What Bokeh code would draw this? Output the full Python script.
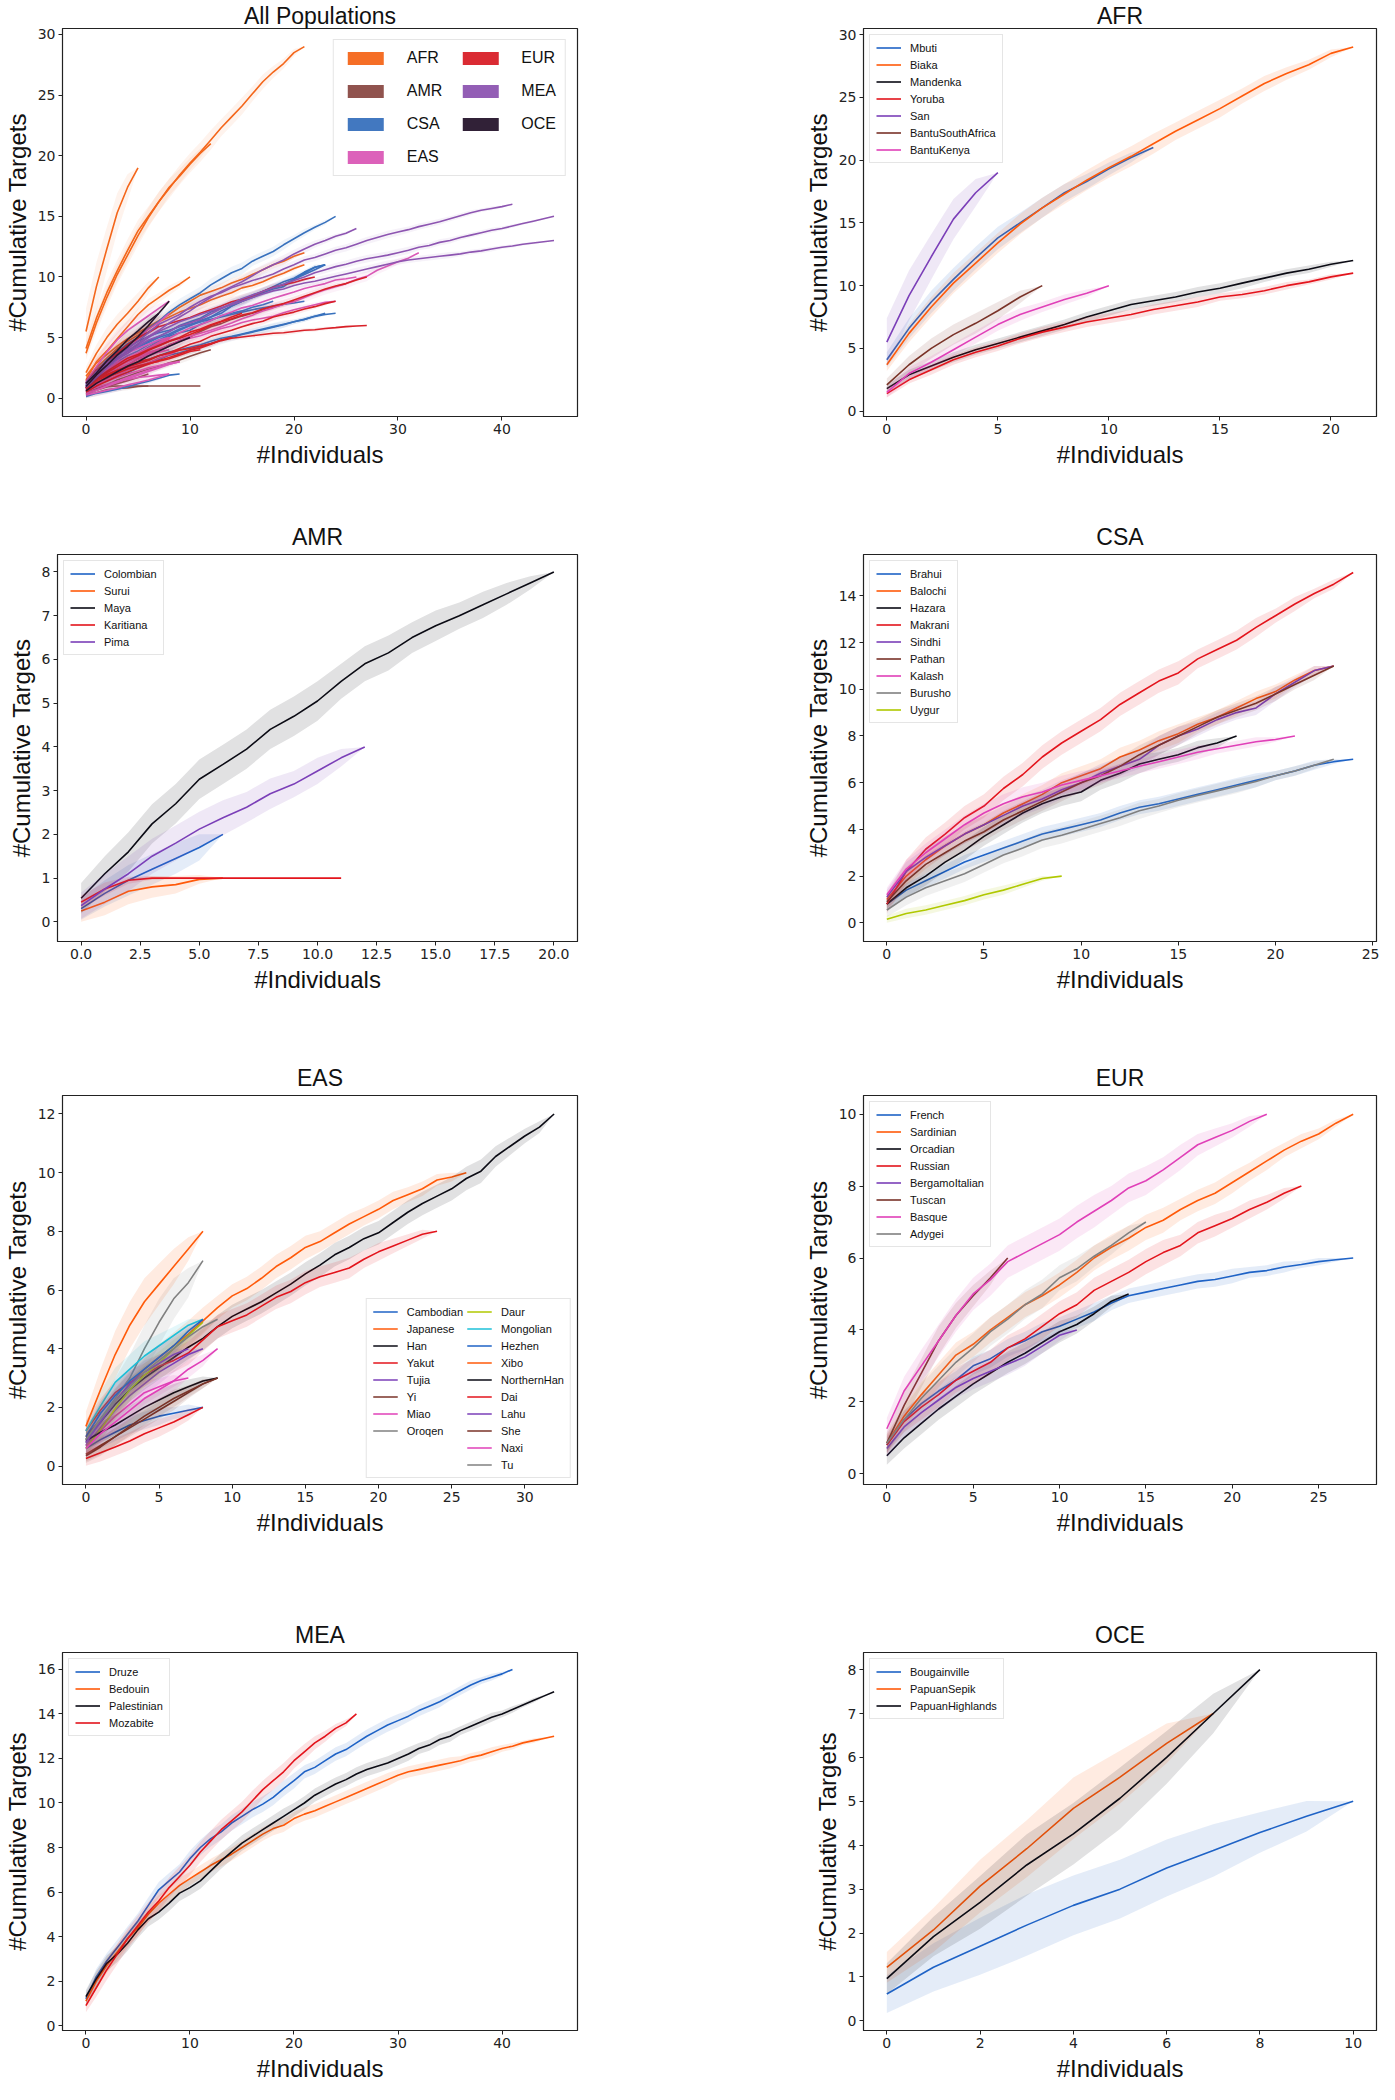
import numpy as np
from bokeh.plotting import figure
from bokeh.layouts import column, row
from bokeh.models import FixedTicker, Legend, LegendItem, NumeralTickFormatter, Range1d
from bokeh.embed import file_html
from bokeh.resources import INLINE

# ------------------------------------------------------------------ data
# mean cumulative targets at #individuals = 0, 1, 2, ...   and band half-width (sd)
# AFR
afr_mbuti = [4.1, 6.6, 8.7, 10.5, 12.2, 13.8, 15.0, 16.2, 17.4, 18.3, 19.3, 20.2, 21.0]
afr_mbuti_sd = [0.6, 0.8, 0.9, 0.9, 0.9, 0.9, 0.8, 0.8, 0.7, 0.6, 0.5, 0.4, 0.0]
afr_biaka = [3.7, 6.2, 8.3, 10.2, 11.8, 13.4, 14.9, 16.2, 17.3, 18.4, 19.4, 20.3, 21.3, 22.3, 23.2, 24.1, 25.1, 26.1, 26.9, 27.6, 28.5, 29.0]
afr_biaka_sd = [0.5, 0.7, 0.8, 0.8, 0.8, 0.8, 0.8, 0.8, 0.8, 0.8, 0.8, 0.8, 0.8, 0.7, 0.7, 0.7, 0.6, 0.6, 0.5, 0.4, 0.3, 0.0]
afr_mandenka = [1.8, 2.9, 3.6, 4.3, 4.9, 5.4, 5.9, 6.4, 6.9, 7.5, 8.0, 8.5, 8.8, 9.1, 9.5, 9.8, 10.2, 10.6, 11.0, 11.3, 11.7, 12.0]
afr_mandenka_sd = [0.3, 0.4, 0.4, 0.4, 0.4, 0.4, 0.4, 0.4, 0.4, 0.4, 0.4, 0.4, 0.4, 0.4, 0.4, 0.4, 0.4, 0.3, 0.3, 0.3, 0.2, 0.0]
afr_yoruba = [1.4, 2.5, 3.3, 4.1, 4.7, 5.2, 5.8, 6.3, 6.7, 7.1, 7.4, 7.7, 8.1, 8.4, 8.7, 9.1, 9.3, 9.6, 10.0, 10.3, 10.7, 11.0]
afr_yoruba_sd = [0.3, 0.3, 0.4, 0.4, 0.4, 0.4, 0.4, 0.4, 0.4, 0.4, 0.4, 0.4, 0.4, 0.4, 0.4, 0.3, 0.3, 0.3, 0.3, 0.2, 0.2, 0.0]
afr_san = [5.5, 9.2, 12.3, 15.3, 17.4, 19.0]
afr_san_sd = [1.9, 2.0, 1.8, 1.6, 1.1, 0.0]
afr_bantusa = [2.1, 3.7, 5.0, 6.1, 7.0, 8.0, 9.1, 10.0]
afr_bantusa_sd = [0.5, 0.7, 0.8, 0.8, 0.8, 0.7, 0.5, 0.0]
afr_bantuk = [1.5, 3.0, 3.9, 4.9, 5.9, 6.9, 7.7, 8.3, 8.9, 9.4, 10.0]
afr_bantuk_sd = [0.4, 0.5, 0.5, 0.5, 0.5, 0.5, 0.5, 0.4, 0.4, 0.3, 0.0]

# AMR
amr_colombian = [0.3, 0.65, 0.95, 1.2, 1.45, 1.7, 2.0]
amr_colombian_sd = [0.25, 0.3, 0.35, 0.35, 0.35, 0.3, 0.0]
amr_surui = [0.25, 0.45, 0.7, 0.8, 0.85, 0.97, 1.0]
amr_surui_sd = [0.25, 0.3, 0.3, 0.25, 0.2, 0.1, 0.0]
amr_maya = [0.54, 1.1, 1.6, 2.24, 2.7, 3.26, 3.6, 3.95, 4.4, 4.7, 5.05, 5.5, 5.9, 6.15, 6.5, 6.77, 7.0, 7.25, 7.5, 7.75, 8.0]
amr_maya_sd = [0.35, 0.4, 0.45, 0.45, 0.45, 0.45, 0.45, 0.45, 0.45, 0.45, 0.45, 0.4, 0.4, 0.4, 0.35, 0.35, 0.3, 0.3, 0.25, 0.15, 0.0]
amr_karitiana = [0.45, 0.75, 0.95, 1.0, 1.0, 1.0, 1.0, 1.0, 1.0, 1.0, 1.0, 1.0]
amr_karitiana_sd = [0.15, 0.15, 0.08, 0.04, 0.02, 0.01, 0.0, 0.0, 0.0, 0.0, 0.0, 0.0]
amr_pima = [0.37, 0.75, 1.1, 1.5, 1.8, 2.12, 2.38, 2.62, 2.93, 3.15, 3.45, 3.75, 4.0]
amr_pima_sd = [0.3, 0.35, 0.4, 0.4, 0.4, 0.4, 0.4, 0.35, 0.35, 0.3, 0.3, 0.2, 0.0]

# CSA
csa_brahui = [0.8, 1.4, 1.8, 2.2, 2.6, 2.9, 3.2, 3.5, 3.8, 4.0, 4.2, 4.4, 4.7, 4.95, 5.1, 5.3, 5.5, 5.7, 5.9, 6.1, 6.3, 6.5, 6.75, 6.9, 7.0]
csa_brahui_sd = [0.2, 0.3, 0.3, 0.3, 0.3, 0.3, 0.3, 0.3, 0.3, 0.3, 0.3, 0.3, 0.3, 0.3, 0.3, 0.3, 0.3, 0.3, 0.3, 0.3, 0.2, 0.2, 0.2, 0.1, 0.0]
csa_balochi = [1.0, 2.0, 2.7, 3.3, 3.8, 4.2, 4.7, 5.1, 5.5, 6.0, 6.3, 6.6, 7.1, 7.4, 7.8, 8.1, 8.5, 8.8, 9.2, 9.6, 9.9, 10.4, 10.8, 11.0]
csa_balochi_sd = [0.3, 0.4, 0.4, 0.4, 0.4, 0.4, 0.4, 0.4, 0.4, 0.4, 0.4, 0.4, 0.4, 0.4, 0.4, 0.4, 0.3, 0.3, 0.3, 0.3, 0.3, 0.2, 0.2, 0.0]
csa_hazara = [0.8, 1.5, 2.0, 2.6, 3.1, 3.7, 4.2, 4.7, 5.1, 5.4, 5.6, 6.1, 6.4, 6.8, 7.0, 7.2, 7.5, 7.7, 8.0]
csa_hazara_sd = [0.3, 0.4, 0.4, 0.4, 0.4, 0.4, 0.4, 0.4, 0.4, 0.4, 0.4, 0.4, 0.4, 0.4, 0.3, 0.3, 0.3, 0.2, 0.0]
csa_makrani = [0.8, 2.2, 3.15, 3.8, 4.5, 5.0, 5.75, 6.35, 7.1, 7.7, 8.2, 8.7, 9.35, 9.85, 10.35, 10.7, 11.3, 11.7, 12.1, 12.65, 13.15, 13.65, 14.1, 14.5, 15.0]
csa_makrani_sd = [0.4, 0.5, 0.5, 0.5, 0.5, 0.5, 0.5, 0.5, 0.5, 0.5, 0.5, 0.5, 0.5, 0.5, 0.5, 0.5, 0.4, 0.4, 0.4, 0.4, 0.3, 0.3, 0.2, 0.2, 0.0]
csa_sindhi = [1.1, 2.2, 2.8, 3.3, 3.8, 4.2, 4.6, 5.0, 5.3, 5.7, 6.0, 6.4, 6.7, 7.0, 7.6, 8.0, 8.3, 8.7, 9.0, 9.2, 9.8, 10.3, 10.8, 11.0]
csa_sindhi_sd = [0.3, 0.4, 0.4, 0.4, 0.4, 0.4, 0.4, 0.4, 0.4, 0.4, 0.4, 0.4, 0.4, 0.4, 0.4, 0.4, 0.3, 0.3, 0.3, 0.3, 0.3, 0.2, 0.2, 0.0]
csa_pathan = [0.9, 1.8, 2.5, 3.0, 3.5, 3.9, 4.4, 4.8, 5.2, 5.6, 6.0, 6.3, 6.7, 7.2, 7.6, 8.0, 8.4, 8.8, 9.1, 9.4, 9.8, 10.2, 10.6, 11.0]
csa_pathan_sd = [0.3, 0.4, 0.4, 0.4, 0.4, 0.4, 0.4, 0.4, 0.4, 0.4, 0.4, 0.4, 0.4, 0.4, 0.4, 0.4, 0.3, 0.3, 0.3, 0.3, 0.3, 0.2, 0.2, 0.0]
csa_kalash = [1.2, 2.3, 3.0, 3.6, 4.2, 4.7, 5.1, 5.4, 5.6, 5.9, 6.1, 6.3, 6.5, 6.7, 6.9, 7.1, 7.3, 7.45, 7.6, 7.75, 7.85, 8.0]
csa_kalash_sd = [0.3, 0.4, 0.4, 0.4, 0.4, 0.4, 0.4, 0.4, 0.4, 0.4, 0.4, 0.3, 0.3, 0.3, 0.3, 0.3, 0.3, 0.2, 0.2, 0.2, 0.1, 0.0]
csa_burusho = [0.55, 1.1, 1.5, 1.8, 2.1, 2.5, 2.9, 3.2, 3.55, 3.75, 4.0, 4.25, 4.5, 4.8, 5.0, 5.25, 5.45, 5.65, 5.85, 6.05, 6.3, 6.5, 6.75, 7.0]
csa_burusho_sd = [0.3, 0.35, 0.35, 0.35, 0.35, 0.35, 0.35, 0.35, 0.35, 0.35, 0.35, 0.35, 0.35, 0.35, 0.3, 0.3, 0.3, 0.3, 0.3, 0.25, 0.2, 0.2, 0.15, 0.0]
csa_uygur = [0.15, 0.4, 0.55, 0.75, 0.95, 1.2, 1.4, 1.65, 1.9, 2.0]
csa_uygur_sd = [0.15, 0.2, 0.2, 0.2, 0.2, 0.2, 0.2, 0.15, 0.1, 0.0]

# EAS
eas_cambodian = [0.6, 0.9, 1.15, 1.4, 1.55, 1.7, 1.8, 1.9, 2.0]
eas_cambodian_sd = [0.3, 0.3, 0.3, 0.3, 0.3, 0.3, 0.2, 0.2, 0.0]
eas_japanese = [1.0, 1.6, 2.2, 2.8, 3.3, 3.7, 4.1, 4.5, 4.95, 5.4, 5.8, 6.05, 6.4, 6.8, 7.1, 7.45, 7.65, 7.95, 8.25, 8.5, 8.75, 9.05, 9.25, 9.45, 9.75, 9.85, 10.0]
eas_japanese_sd = [0.35, 0.4, 0.45, 0.45, 0.45, 0.45, 0.45, 0.45, 0.45, 0.4, 0.4, 0.4, 0.4, 0.4, 0.4, 0.4, 0.35, 0.35, 0.35, 0.3, 0.3, 0.3, 0.25, 0.25, 0.2, 0.15, 0.0]
eas_han = [0.9, 1.5, 2.1, 2.6, 3.0, 3.35, 3.7, 4.05, 4.35, 4.75, 5.1, 5.35, 5.6, 5.9, 6.2, 6.55, 6.85, 7.2, 7.45, 7.75, 7.95, 8.3, 8.65, 8.95, 9.2, 9.45, 9.8, 10.05, 10.55, 10.9, 11.25, 11.55, 12.0]
eas_han_sd = [0.3, 0.35, 0.4, 0.4, 0.4, 0.4, 0.4, 0.4, 0.4, 0.4, 0.4, 0.4, 0.4, 0.4, 0.4, 0.4, 0.4, 0.4, 0.4, 0.4, 0.4, 0.4, 0.4, 0.4, 0.4, 0.4, 0.4, 0.4, 0.35, 0.3, 0.25, 0.2, 0.0]
eas_yakut = [1.2, 1.9, 2.5, 2.85, 3.1, 3.4, 3.6, 3.85, 4.3, 4.75, 4.95, 5.15, 5.45, 5.75, 5.95, 6.25, 6.45, 6.6, 6.75, 7.05, 7.3, 7.5, 7.7, 7.9, 8.0]
eas_yakut_sd = [0.35, 0.4, 0.4, 0.4, 0.4, 0.4, 0.4, 0.4, 0.4, 0.4, 0.4, 0.4, 0.4, 0.4, 0.4, 0.4, 0.35, 0.35, 0.35, 0.3, 0.3, 0.25, 0.2, 0.15, 0.0]
eas_tujia = [0.7, 1.3, 1.9, 2.4, 2.8, 3.2, 3.5, 3.8, 4.0]
eas_tujia_sd = [0.3, 0.4, 0.4, 0.4, 0.4, 0.4, 0.3, 0.2, 0.0]
eas_yi = [0.4, 0.7, 1.0, 1.3, 1.6, 1.9, 2.2, 2.5, 2.8, 3.0]
eas_yi_sd = [0.25, 0.3, 0.3, 0.3, 0.3, 0.3, 0.3, 0.2, 0.15, 0.0]
eas_miao = [0.7, 1.2, 1.7, 2.1, 2.5, 2.7, 2.9, 3.0]
eas_miao_sd = [0.3, 0.4, 0.4, 0.4, 0.4, 0.3, 0.2, 0.0]
eas_oroqen = [0.8, 1.6, 2.3, 3.0, 4.0, 4.9, 5.7, 6.25, 7.0]
eas_oroqen_sd = [0.4, 0.6, 0.7, 0.8, 0.8, 0.8, 0.7, 0.5, 0.0]
eas_daur = [0.6, 1.25, 1.95, 2.6, 3.1, 3.5, 4.0, 4.45, 4.9]
eas_daur_sd = [0.3, 0.4, 0.4, 0.4, 0.4, 0.4, 0.3, 0.2, 0.0]
eas_mongolian = [1.2, 2.05, 2.85, 3.3, 3.75, 4.1, 4.45, 4.8, 5.0]
eas_mongolian_sd = [0.3, 0.5, 0.5, 0.5, 0.5, 0.4, 0.3, 0.2, 0.0]
eas_hezhen = [1.0, 1.8, 2.4, 2.9, 3.3, 3.7, 4.1, 4.6, 5.0]
eas_hezhen_sd = [0.3, 0.4, 0.4, 0.4, 0.4, 0.4, 0.3, 0.2, 0.0]
eas_xibo = [1.35, 2.6, 3.8, 4.8, 5.6, 6.2, 6.8, 7.4, 8.0]
eas_xibo_sd = [0.5, 0.7, 0.8, 0.8, 0.8, 0.7, 0.6, 0.4, 0.0]
eas_northernhan = [0.86, 1.15, 1.4, 1.7, 2.0, 2.25, 2.5, 2.7, 2.9, 3.0]
eas_northernhan_sd = [0.3, 0.35, 0.35, 0.35, 0.35, 0.35, 0.3, 0.25, 0.15, 0.0]
eas_dai = [0.26, 0.45, 0.65, 0.85, 1.1, 1.3, 1.5, 1.75, 2.0]
eas_dai_sd = [0.25, 0.3, 0.3, 0.3, 0.3, 0.3, 0.25, 0.2, 0.0]
eas_lahu = [0.8, 1.5, 2.2, 2.8, 3.2, 3.5, 3.8, 4.0]
eas_lahu_sd = [0.3, 0.4, 0.4, 0.4, 0.4, 0.3, 0.2, 0.0]
eas_she = [0.35, 0.65, 1.0, 1.35, 1.7, 2.0, 2.3, 2.55, 2.8, 3.0]
eas_she_sd = [0.25, 0.3, 0.3, 0.3, 0.3, 0.3, 0.3, 0.2, 0.15, 0.0]
eas_naxi = [0.6, 1.1, 1.5, 1.9, 2.3, 2.6, 2.9, 3.3, 3.6, 4.0]
eas_naxi_sd = [0.3, 0.35, 0.35, 0.35, 0.35, 0.35, 0.35, 0.3, 0.2, 0.0]
eas_tu = [0.9, 1.6, 2.2, 2.7, 3.2, 3.6, 4.0, 4.4, 4.75, 5.0]
eas_tu_sd = [0.3, 0.4, 0.45, 0.45, 0.45, 0.45, 0.4, 0.3, 0.2, 0.0]

# EUR
eur_french = [0.8, 1.5, 1.95, 2.3, 2.6, 3.0, 3.2, 3.5, 3.7, 3.95, 4.1, 4.3, 4.5, 4.75, 4.95, 5.05, 5.15, 5.25, 5.35, 5.4, 5.5, 5.6, 5.65, 5.75, 5.82, 5.9, 5.95, 6.0]
eur_french_sd = [0.2, 0.25, 0.25, 0.25, 0.25, 0.25, 0.25, 0.25, 0.25, 0.25, 0.25, 0.25, 0.25, 0.2, 0.2, 0.2, 0.2, 0.2, 0.2, 0.2, 0.2, 0.15, 0.15, 0.15, 0.1, 0.1, 0.05, 0.0]
eur_sardinian = [0.85, 1.6, 2.2, 2.75, 3.3, 3.6, 4.0, 4.35, 4.7, 4.95, 5.25, 5.6, 6.0, 6.3, 6.55, 6.85, 7.05, 7.35, 7.6, 7.8, 8.1, 8.4, 8.7, 9.0, 9.25, 9.45, 9.75, 10.0]
eur_sardinian_sd = [0.25, 0.3, 0.35, 0.35, 0.35, 0.35, 0.35, 0.35, 0.35, 0.35, 0.35, 0.35, 0.35, 0.35, 0.35, 0.35, 0.35, 0.3, 0.3, 0.3, 0.3, 0.25, 0.25, 0.2, 0.2, 0.15, 0.1, 0.0]
eur_orcadian = [0.5, 1.0, 1.4, 1.8, 2.15, 2.5, 2.8, 3.1, 3.35, 3.65, 3.95, 4.15, 4.45, 4.8, 5.0]
eur_orcadian_sd = [0.25, 0.3, 0.3, 0.3, 0.3, 0.3, 0.3, 0.3, 0.3, 0.3, 0.3, 0.25, 0.2, 0.15, 0.0]
eur_russian = [0.8, 1.45, 1.85, 2.2, 2.6, 2.85, 3.1, 3.5, 3.75, 4.1, 4.45, 4.7, 5.1, 5.35, 5.6, 5.9, 6.15, 6.35, 6.7, 6.9, 7.1, 7.35, 7.55, 7.8, 8.0]
eur_russian_sd = [0.25, 0.3, 0.35, 0.35, 0.35, 0.35, 0.35, 0.35, 0.35, 0.35, 0.35, 0.35, 0.35, 0.35, 0.35, 0.35, 0.35, 0.3, 0.3, 0.3, 0.25, 0.25, 0.2, 0.15, 0.0]
eur_bergamo = [0.7, 1.3, 1.7, 2.05, 2.4, 2.65, 2.85, 3.05, 3.25, 3.55, 3.85, 4.0]
eur_bergamo_sd = [0.25, 0.3, 0.3, 0.3, 0.3, 0.3, 0.3, 0.3, 0.25, 0.2, 0.15, 0.0]
eur_tuscan = [0.85, 1.9, 2.8, 3.7, 4.4, 4.95, 5.45, 6.0]
eur_tuscan_sd = [0.3, 0.4, 0.4, 0.4, 0.35, 0.3, 0.2, 0.0]
eur_basque = [1.25, 2.3, 3.0, 3.7, 4.4, 5.0, 5.4, 5.9, 6.15, 6.4, 6.65, 7.0, 7.3, 7.6, 7.95, 8.15, 8.45, 8.8, 9.15, 9.35, 9.55, 9.8, 10.0]
eur_basque_sd = [0.3, 0.4, 0.45, 0.45, 0.45, 0.45, 0.45, 0.45, 0.45, 0.45, 0.45, 0.45, 0.45, 0.4, 0.4, 0.4, 0.35, 0.35, 0.3, 0.25, 0.2, 0.15, 0.0]
eur_adygei = [0.85, 1.5, 2.1, 2.6, 3.1, 3.5, 3.95, 4.3, 4.7, 5.0, 5.45, 5.7, 6.05, 6.35, 6.7, 7.0]
eur_adygei_sd = [0.25, 0.35, 0.4, 0.4, 0.4, 0.4, 0.4, 0.4, 0.4, 0.4, 0.35, 0.35, 0.3, 0.25, 0.2, 0.0]

# MEA
mea_druze = [1.2, 2.2, 2.9, 3.5, 4.1, 4.7, 5.4, 6.1, 6.5, 6.9, 7.5, 8.0, 8.4, 8.7, 9.1, 9.4, 9.7, 9.95, 10.25, 10.65, 11.0, 11.4, 11.6, 11.9, 12.2, 12.4, 12.7, 13.0, 13.25, 13.5, 13.7, 13.9, 14.15, 14.35, 14.55, 14.8, 15.05, 15.3, 15.5, 15.65, 15.8, 16.0]
mea_druze_sd = [0.3, 0.35, 0.35, 0.35, 0.35, 0.35, 0.35, 0.35, 0.35, 0.35, 0.35, 0.35, 0.35, 0.35, 0.35, 0.35, 0.35, 0.35, 0.35, 0.35, 0.35, 0.3, 0.3, 0.3, 0.3, 0.3, 0.3, 0.3, 0.3, 0.3, 0.3, 0.25, 0.25, 0.25, 0.25, 0.2, 0.2, 0.2, 0.15, 0.15, 0.1, 0.0]
mea_bedouin = [1.1, 2.0, 2.7, 3.3, 3.9, 4.4, 5.0, 5.5, 5.9, 6.3, 6.6, 6.9, 7.2, 7.45, 7.7, 8.0, 8.3, 8.6, 8.85, 9.0, 9.3, 9.5, 9.65, 9.85, 10.05, 10.25, 10.45, 10.65, 10.85, 11.05, 11.25, 11.4, 11.5, 11.6, 11.7, 11.8, 11.9, 12.05, 12.15, 12.3, 12.45, 12.55, 12.7, 12.8, 12.9, 13.0]
mea_bedouin_sd = [0.3, 0.35, 0.35, 0.35, 0.35, 0.35, 0.35, 0.35, 0.35, 0.35, 0.3, 0.3, 0.3, 0.3, 0.3, 0.3, 0.3, 0.3, 0.3, 0.3, 0.3, 0.3, 0.3, 0.3, 0.3, 0.3, 0.3, 0.3, 0.3, 0.3, 0.25, 0.25, 0.25, 0.25, 0.25, 0.25, 0.2, 0.2, 0.2, 0.2, 0.15, 0.15, 0.1, 0.1, 0.05, 0.0]
mea_palestinian = [1.3, 2.1, 2.8, 3.2, 3.7, 4.3, 4.8, 5.1, 5.5, 5.95, 6.2, 6.5, 6.95, 7.4, 7.8, 8.2, 8.5, 8.8, 9.1, 9.4, 9.7, 10.0, 10.35, 10.6, 10.85, 11.05, 11.3, 11.5, 11.65, 11.8, 12.0, 12.2, 12.45, 12.6, 12.85, 13.0, 13.25, 13.45, 13.65, 13.85, 14.0, 14.2, 14.4, 14.6, 14.8, 15.0]
mea_palestinian_sd = [0.3, 0.35, 0.35, 0.35, 0.35, 0.35, 0.35, 0.35, 0.35, 0.35, 0.35, 0.35, 0.35, 0.35, 0.35, 0.35, 0.35, 0.35, 0.35, 0.35, 0.3, 0.3, 0.3, 0.3, 0.3, 0.3, 0.3, 0.3, 0.3, 0.3, 0.3, 0.3, 0.25, 0.25, 0.25, 0.25, 0.2, 0.2, 0.2, 0.2, 0.15, 0.15, 0.1, 0.1, 0.05, 0.0]
mea_mozabite = [0.9, 1.7, 2.5, 3.2, 3.9, 4.5, 5.1, 5.6, 6.2, 6.7, 7.2, 7.8, 8.3, 8.8, 9.2, 9.6, 10.1, 10.6, 11.0, 11.4, 11.9, 12.3, 12.7, 13.0, 13.35, 13.6, 14.0]
mea_mozabite_sd = [0.3, 0.4, 0.45, 0.45, 0.45, 0.45, 0.45, 0.45, 0.45, 0.45, 0.45, 0.45, 0.45, 0.45, 0.45, 0.45, 0.45, 0.4, 0.4, 0.4, 0.35, 0.35, 0.3, 0.25, 0.2, 0.15, 0.0]

# OCE
oce_bougainville = [0.61, 1.22, 1.7, 2.18, 2.63, 3.0, 3.48, 3.88, 4.29, 4.66, 5.0]
oce_bougainville_sd = [0.43, 0.55, 0.65, 0.7, 0.68, 0.67, 0.65, 0.6, 0.46, 0.35, 0.0]
oce_papuansepik = [1.22, 2.07, 3.07, 3.92, 4.84, 5.55, 6.32, 7.0]
oce_papuansepik_sd = [0.35, 0.5, 0.6, 0.65, 0.7, 0.6, 0.45, 0.0]
oce_papuanhighlands = [0.96, 1.92, 2.7, 3.55, 4.26, 5.07, 6.0, 7.0, 8.0]
oce_papuanhighlands_sd = [0.35, 0.45, 0.6, 0.7, 0.7, 0.7, 0.6, 0.45, 0.0]

AFR_SERIES = [("Mbuti", afr_mbuti, afr_mbuti_sd), ("Biaka", afr_biaka, afr_biaka_sd),
              ("Mandenka", afr_mandenka, afr_mandenka_sd), ("Yoruba", afr_yoruba, afr_yoruba_sd),
              ("San", afr_san, afr_san_sd), ("BantuSouthAfrica", afr_bantusa, afr_bantusa_sd),
              ("BantuKenya", afr_bantuk, afr_bantuk_sd)]
AMR_SERIES = [("Colombian", amr_colombian, amr_colombian_sd), ("Surui", amr_surui, amr_surui_sd),
              ("Maya", amr_maya, amr_maya_sd), ("Karitiana", amr_karitiana, amr_karitiana_sd),
              ("Pima", amr_pima, amr_pima_sd)]
CSA_SERIES = [("Brahui", csa_brahui, csa_brahui_sd), ("Balochi", csa_balochi, csa_balochi_sd),
              ("Hazara", csa_hazara, csa_hazara_sd), ("Makrani", csa_makrani, csa_makrani_sd),
              ("Sindhi", csa_sindhi, csa_sindhi_sd), ("Pathan", csa_pathan, csa_pathan_sd),
              ("Kalash", csa_kalash, csa_kalash_sd), ("Burusho", csa_burusho, csa_burusho_sd),
              ("Uygur", csa_uygur, csa_uygur_sd)]
EAS_SERIES = [("Cambodian", eas_cambodian, eas_cambodian_sd), ("Japanese", eas_japanese, eas_japanese_sd),
              ("Han", eas_han, eas_han_sd), ("Yakut", eas_yakut, eas_yakut_sd),
              ("Tujia", eas_tujia, eas_tujia_sd), ("Yi", eas_yi, eas_yi_sd),
              ("Miao", eas_miao, eas_miao_sd), ("Oroqen", eas_oroqen, eas_oroqen_sd),
              ("Daur", eas_daur, eas_daur_sd), ("Mongolian", eas_mongolian, eas_mongolian_sd),
              ("Hezhen", eas_hezhen, eas_hezhen_sd), ("Xibo", eas_xibo, eas_xibo_sd),
              ("NorthernHan", eas_northernhan, eas_northernhan_sd), ("Dai", eas_dai, eas_dai_sd),
              ("Lahu", eas_lahu, eas_lahu_sd), ("She", eas_she, eas_she_sd),
              ("Naxi", eas_naxi, eas_naxi_sd), ("Tu", eas_tu, eas_tu_sd)]
EUR_SERIES = [("French", eur_french, eur_french_sd), ("Sardinian", eur_sardinian, eur_sardinian_sd),
              ("Orcadian", eur_orcadian, eur_orcadian_sd), ("Russian", eur_russian, eur_russian_sd),
              ("BergamoItalian", eur_bergamo, eur_bergamo_sd), ("Tuscan", eur_tuscan, eur_tuscan_sd),
              ("Basque", eur_basque, eur_basque_sd), ("Adygei", eur_adygei, eur_adygei_sd)]
MEA_SERIES = [("Druze", mea_druze, mea_druze_sd), ("Bedouin", mea_bedouin, mea_bedouin_sd),
              ("Palestinian", mea_palestinian, mea_palestinian_sd), ("Mozabite", mea_mozabite, mea_mozabite_sd)]
OCE_SERIES = [("Bougainville", oce_bougainville, oce_bougainville_sd),
              ("PapuanSepik", oce_papuansepik, oce_papuansepik_sd),
              ("PapuanHighlands", oce_papuanhighlands, oce_papuanhighlands_sd)]

REGIONS = ["AFR", "AMR", "CSA", "EAS", "EUR", "MEA", "OCE"]
REGION_SERIES = {"AFR": AFR_SERIES, "AMR": AMR_SERIES, "CSA": CSA_SERIES, "EAS": EAS_SERIES,
                 "EUR": EUR_SERIES, "MEA": MEA_SERIES, "OCE": OCE_SERIES}
REGION_COLORS = {"AFR": "#f4661a", "AMR": "#8a4a44", "CSA": "#3871bd", "EAS": "#da58b6",
                 "EUR": "#d82028", "MEA": "#8d55b1", "OCE": "#26152c"}
PALETTE = ["#1f63c6", "#ff5a0a", "#0b0b14", "#e3141c", "#7b3fb8",
           "#7a3328", "#e040b8", "#808080", "#b0c800", "#1ec0d8"]

# ------------------------------------------------------------------ layout
LEFT = dict(width=792, min_border_left=57, min_border_right=215)
RIGHT = dict(width=587, min_border_left=71, min_border_right=3)
ROWS = [dict(height=512, min_border_top=28, min_border_bottom=96, ts=0),
        dict(height=542, min_border_top=42, min_border_bottom=113, ts=10),
        dict(height=538, min_border_top=41, min_border_bottom=108, ts=10),
        dict(height=492, min_border_top=60, min_border_bottom=52, ts=10)]

LABEL_FONT = "Liberation Sans"
TICK_FONT = "DejaVu Sans"


def make_fig(title, col, rw, xr, yr, xticks, yticks, xfmt=None):
    geo = dict(LEFT if col == 0 else RIGHT)
    r = ROWS[rw]
    p = figure(width=geo["width"], height=r["height"],
               min_border_left=geo["min_border_left"], min_border_right=geo["min_border_right"],
               min_border_top=r["min_border_top"], min_border_bottom=r["min_border_bottom"],
               x_range=Range1d(*xr), y_range=Range1d(*yr),
               output_backend="svg", toolbar_location=None, title=title)
    p.title.text_font = LABEL_FONT
    p.title.text_font_size = "23px"
    p.title.text_font_style = "normal"
    p.title.text_color = "#111111"
    p.title.align = "center"
    p.title.standoff = r["ts"]
    p.grid.visible = False
    p.outline_line_color = "#222222"
    p.outline_line_width = 1.2
    p.background_fill_color = "white"
    p.border_fill_color = "white"
    p.xaxis.axis_label = "#Individuals"
    p.yaxis.axis_label = "#Cumulative Targets"
    for ax in (p.xaxis[0], p.yaxis[0]):
        ax.axis_label_text_font = LABEL_FONT
        ax.axis_label_text_font_size = "24px"
        ax.axis_label_text_font_style = "normal"
        ax.axis_label_text_color = "#111111"
        ax.axis_label_standoff = 4
        ax.major_label_text_font = TICK_FONT
        ax.major_label_text_font_size = "14px"
        ax.major_label_text_color = "#222222"
        ax.major_label_standoff = 3
        ax.major_tick_out = 4
        ax.major_tick_in = 0
        ax.minor_tick_line_color = None
        ax.axis_line_color = "#222222"
        ax.major_tick_line_color = "#222222"
    p.xaxis[0].ticker = FixedTicker(ticks=xticks)
    p.yaxis[0].ticker = FixedTicker(ticks=yticks)
    if xfmt:
        p.xaxis[0].formatter = NumeralTickFormatter(format=xfmt)
    return p


def add_series(p, mean, sd, color, band_alpha):
    m = np.asarray(mean, dtype=float)
    s = np.asarray(sd, dtype=float)
    x = np.arange(len(m))
    p.varea(x=x, y1=m - s, y2=m + s, fill_color=color, fill_alpha=band_alpha)
    return p.line(x=x, y=m, line_color=color, line_width=1.6)


def style_legend(lg, font_size="11px", gw=25, gh=13, spacing=4):
    lg.label_text_font = LABEL_FONT
    lg.label_text_font_size = font_size
    lg.label_text_color = "#111111"
    lg.glyph_width = gw
    lg.glyph_height = gh
    lg.label_height = gh
    lg.spacing = spacing
    lg.padding = 6
    lg.margin = 6
    lg.label_standoff = 9
    lg.border_line_color = "#cccccc"
    lg.border_line_width = 1
    lg.background_fill_alpha = 0.85


# ---------- All Populations
p_all = make_fig("All Populations", 0, 0, (-2.26, 47.26), (-1.51, 30.49),
                 [0, 10, 20, 30, 40], [0, 5, 10, 15, 20, 25, 30])
for reg in REGIONS:
    for name, mean, sd in REGION_SERIES[reg]:
        add_series(p_all, mean, sd, REGION_COLORS[reg], 0.08)
all_items = []
for reg in REGIONS:
    c = REGION_COLORS[reg]
    first_mean = np.asarray(REGION_SERIES[reg][0][1], dtype=float)
    # zero-height area: invisible in the plot, drawn as a solid patch in the legend
    rr = p_all.varea(x=np.arange(len(first_mean)), y1=first_mean, y2=first_mean,
                     fill_color=c, fill_alpha=0.95)
    all_items.append(LegendItem(label=reg, renderers=[rr]))
lg_all = Legend(items=all_items, location="top_right", orientation="vertical", nrows=4)
style_legend(lg_all, font_size="16px", gw=45, gh=16, spacing=15)
lg_all.padding = 9
lg_all.margin = 11
lg_all.label_standoff = 19
p_all.add_layout(lg_all)

# ---------- regional panels
PANELS = [
    ("AFR", 1, 0, (-1.05, 22.05), (-0.42, 30.48), [0, 5, 10, 15, 20], [0, 5, 10, 15, 20, 25, 30], "top_left", None),
    ("AMR", 0, 1, (-1.0, 21.0), (-0.45, 8.4), [0, 2.5, 5, 7.5, 10, 12.5, 15, 17.5, 20], [0, 1, 2, 3, 4, 5, 6, 7, 8], "top_left", "0.0"),
    ("CSA", 1, 1, (-1.2, 25.2), (-0.8, 15.77), [0, 5, 10, 15, 20, 25], [0, 2, 4, 6, 8, 10, 12, 14], "top_left", None),
    ("EAS", 0, 2, (-1.6, 33.6), (-0.63, 12.63), [0, 5, 10, 15, 20, 25, 30], [0, 2, 4, 6, 8, 10, 12], "bottom_right", None),
    ("EUR", 1, 2, (-1.35, 28.35), (-0.3, 10.52), [0, 5, 10, 15, 20, 25], [0, 2, 4, 6, 8, 10], "top_left", None),
    ("MEA", 0, 3, (-2.25, 47.25), (-0.22, 16.76), [0, 10, 20, 30, 40], [0, 2, 4, 6, 8, 10, 12, 14, 16], "top_left", None),
    ("OCE", 1, 3, (-0.5, 10.5), (-0.22, 8.39), [0, 2, 4, 6, 8, 10], [0, 1, 2, 3, 4, 5, 6, 7, 8], "top_left", None),
]

figs = {}
for reg, col, rw, xr, yr, xt, yt, loc, xfmt in PANELS:
    p = make_fig(reg, col, rw, xr, yr, xt, yt, xfmt)
    items = []
    for i, (name, mean, sd) in enumerate(REGION_SERIES[reg]):
        ln = add_series(p, mean, sd, PALETTE[i % len(PALETTE)], 0.12)
        items.append(LegendItem(label=name, renderers=[ln]))
    if reg == "EAS":
        blank1 = p.line(x=[], y=[], line_alpha=0)
        blank2 = p.line(x=[], y=[], line_alpha=0)
        items = items[:8] + [LegendItem(label=" ", renderers=[blank1]),
                             LegendItem(label=" ", renderers=[blank2])] + items[8:]
        lg = Legend(items=items, location=loc, orientation="vertical", nrows=10)
    else:
        lg = Legend(items=items, location=loc, orientation="vertical")
    style_legend(lg)
    p.add_layout(lg)
    figs[reg] = p

layout = column(
    row(p_all, figs["AFR"]),
    row(figs["AMR"], figs["CSA"]),
    row(figs["EAS"], figs["EUR"]),
    row(figs["MEA"], figs["OCE"]),
)

open("out.html", "w").write(file_html(layout, INLINE))
